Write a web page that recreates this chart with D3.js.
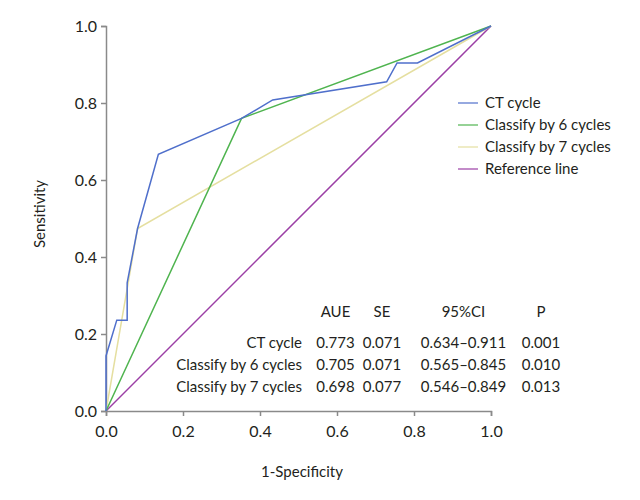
<!DOCTYPE html>
<meta charset="utf-8">
<html>
<style type='text/css'>
  body { margin:0; background:#fff; }
  text { font-family: Lato, sans-serif; fill:#231f20; }
</style>
<script src="https://d3js.org/d3.v7.min.js"></script>
<body>
<svg id="chart" width="640" height="500"></svg>

<script>

// ROC points per test, [1-specificity, sensitivity]
var ctCycle = [[0,0],[0,0.143],[0.028,0.236],[0.055,0.236],[0.055,0.333],[0.082,0.474],[0.136,0.667],[0.352,0.760],[0.433,0.808],[0.729,0.855],[0.756,0.904],[0.809,0.904],[1,1]];
var classify6 = [[0,0],[0.352,0.760],[1,1]];
var classify7 = [[0,0],[0.082,0.474],[1,1]];
var refLine = [[0,0],[1,1]];

var seriesNames = ["CT cycle","Classify by 6 cycles","Classify by 7 cycles","Reference line"];
var seriesColors = ["#4f6fcb","#4fb44f","#e5dfa0","#9b3fa5"];

var tickValues = [0,0.2,0.4,0.6,0.8,1.0];

// stats table
var tableHeader = ["AUE","SE","95%CI","P"];
var tableRows = ["CT cycle","Classify by 6 cycles","Classify by 7 cycles"];
var aueVals = ["0.773","0.705","0.698"];
var seVals = ["0.071","0.071","0.077"];
var ciVals = ["0.634\u20130.911","0.565\u20130.845","0.546\u20130.849"];
var pVals = ["0.001","0.010","0.013"];

var svg = d3.select("#chart");
var fs = 15;

var x = d3.scaleLinear().domain([0,1]).range([106,491]);
var y = d3.scaleLinear().domain([0,1]).range([411,26]);

var xAxis = svg.append("g").attr("transform","translate(0,411)")
  .call(d3.axisBottom(x).tickValues(tickValues).tickFormat(d3.format(".1f")).tickSize(5).tickPadding(10));
var yAxis = svg.append("g").attr("transform","translate(106,0)")
  .call(d3.axisLeft(y).tickValues(tickValues).tickFormat(d3.format(".1f")).tickSize(5).tickPadding(4));

[xAxis, yAxis].forEach(function(a){
  a.select(".domain").attr("stroke","#8a8a8a").attr("stroke-width",1.5);
  a.selectAll(".tick line").attr("stroke","#8a8a8a").attr("stroke-width",1.5);
  a.selectAll("text").attr("fill","#231f20")
    .style("font-size", "16px").style("font-family","Lato, sans-serif");
});

var line = d3.line().x(function(d){ return x(d[0]); }).y(function(d){ return y(d[1]); });

var allSeries = [ctCycle, classify6, classify7, refLine];
// reference under, CT cycle on top
[3,2,1,0].forEach(function(i){
  svg.append("path").datum(allSeries[i])
    .attr("d", line)
    .attr("fill","none")
    .attr("stroke", seriesColors[i])
    .attr("stroke-width", 1.5);
});

// axis titles
svg.append("text").attr("x",302).attr("y",472).attr("dy","0.35em").attr("text-anchor","middle")
  .style("font-size",fs+"px").text("1-Specificity");
svg.append("text").attr("transform","translate(40,214) rotate(-90)").attr("dy","0.35em").attr("text-anchor","middle")
  .style("font-size",fs+"px").text("Sensitivity");

// legend
var leg = svg.append("g");
seriesNames.forEach(function(n,i){
  var yy = 103 + i*22;
  leg.append("line").attr("x1",458).attr("x2",478).attr("y1",yy).attr("y2",yy)
    .attr("stroke",seriesColors[i]).attr("stroke-width",1.2);
  leg.append("text").attr("x",485).attr("y",yy).attr("dy","0.35em")
    .style("font-size",fs+"px").text(n);
});

// table
var colX = [335.5, 382, 463.5, 541];
var tbl = svg.append("g");
tableHeader.forEach(function(h,i){
  tbl.append("text").attr("x",colX[i]).attr("y",312).attr("dy","0.35em")
    .attr("text-anchor","middle").style("font-size",fs+"px").text(h);
});
tableRows.forEach(function(r,i){
  var yy = 343 + i*22;
  tbl.append("text").attr("x",302).attr("y",yy).attr("dy","0.35em")
    .attr("text-anchor","end").style("font-size",fs+"px").text(r);
  [aueVals, seVals, ciVals, pVals].forEach(function(col,j){
    tbl.append("text").attr("x",colX[j]).attr("y",yy).attr("dy","0.35em")
      .attr("text-anchor","middle").style("font-size",fs+"px").text(col[i]);
  });
});

</script>
</body>
</html>
